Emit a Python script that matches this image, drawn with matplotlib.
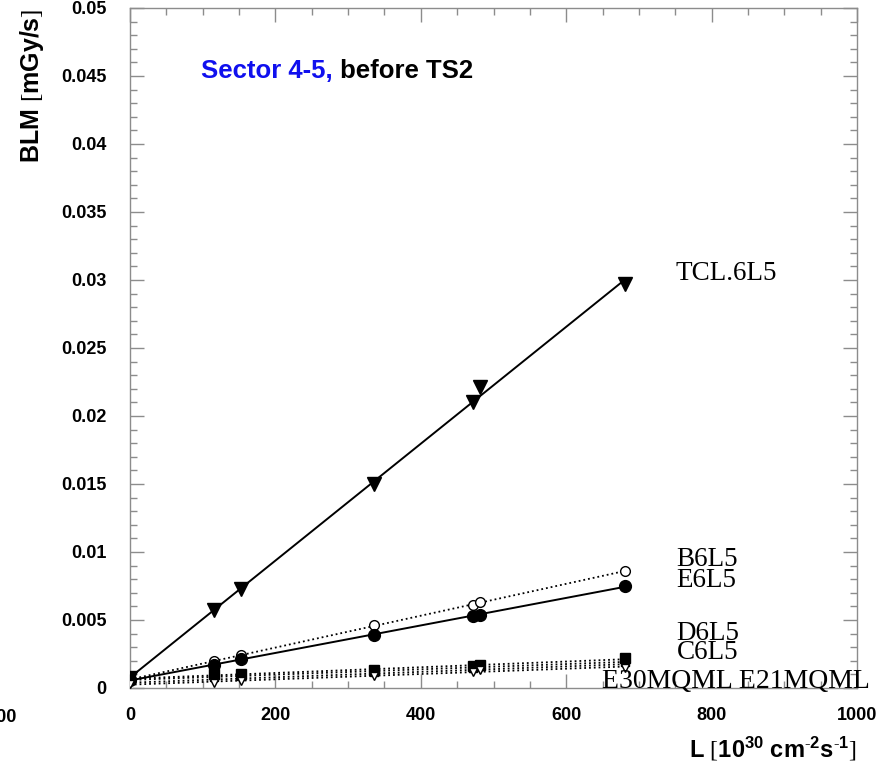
import numpy as np
import matplotlib
matplotlib.use("Agg")
import matplotlib.pyplot as plt
from matplotlib.ticker import MultipleLocator, FuncFormatter

# Luminosity values of the fills [10^30 cm^-2 s^-1]
lumi = [0, 115, 152, 335, 472, 481, 681]

# BLM dose rates [mGy/s] per monitor
tcl_6l5 = [0.0007, 0.0057, 0.0073, 0.0150, 0.0210, 0.0221, 0.0297]
b6l5 = [0.0006, 0.0020, 0.0024, 0.0046, 0.0061, 0.0063, 0.0086]
e6l5 = [0.0006, 0.0017, 0.0021, 0.0039, 0.0053, 0.0054, 0.0075]
d6l5 = [0.0007, 0.0010, 0.0010, 0.0013, 0.0016, 0.0017, 0.0022]
c6l5 = [0.0006, 0.0008, 0.0009, 0.0012, 0.0015, 0.0016, 0.0019]
e21mqml = [0.0004, 0.0006, 0.0007, 0.0010, 0.0014, 0.0014, 0.0017]
e30mqml = [0.0003, 0.0004, 0.0005, 0.0009, 0.0012, 0.0013, 0.0015]

names = ["TCL.6L5", "B6L5", "E6L5", "D6L5", "C6L5", "E21MQML", "E30MQML"]

# bold sans text, thin serif brackets via \mathrm
plt.rcParams["mathtext.fontset"] = "custom"
plt.rcParams["mathtext.bf"] = "Liberation Sans:bold"
plt.rcParams["mathtext.rm"] = "Liberation Serif"
plt.rcParams["mathtext.default"] = "bf"

fig = plt.figure(figsize=(8.85, 7.76), dpi=100)
ax = fig.add_axes([130 / 885, 1 - 688 / 776, 727 / 885, 680 / 776])

styles = [
    (tcl_6l5, dict(marker="v", ms=10, mfc="black", mec="black"), "-", 1.4),
    (b6l5, dict(marker="o", ms=7, mfc="white", mec="black", mew=1.0), ":", 1.3),
    (e6l5, dict(marker="o", ms=8.5, mfc="black", mec="black"), "-", 1.4),
    (d6l5, dict(marker="s", ms=7, mfc="black", mec="black"), ":", 1.3),
    (c6l5, dict(marker="s", ms=6, mfc="black", mec="black"), ":", 1.3),
    (e21mqml, dict(marker="v", ms=6, mfc="black", mec="black"), ":", 1.3),
    (e30mqml, dict(marker="v", ms=6, mfc="white", mec="black", mew=1.0), ":", 1.3),
]

x = np.array(lumi, dtype=float)
xfit = np.array([0.0, x.max()])
for vals, mk, ls, lw in styles:
    y = np.array(vals)
    slope, icpt = np.polyfit(x, y, 1)
    ax.plot(xfit, icpt + slope * xfit, color="black", ls=ls, lw=lw, zorder=2)
    ax.plot(x, y, ls="none", zorder=3, **mk)

ax.set_xlim(0, 1000)
ax.set_ylim(0, 0.05)
ax.xaxis.set_major_locator(MultipleLocator(200))
ax.xaxis.set_minor_locator(MultipleLocator(50))
ax.yaxis.set_major_locator(MultipleLocator(0.005))
ax.yaxis.set_minor_locator(MultipleLocator(0.001))
ax.yaxis.set_major_formatter(FuncFormatter(lambda v, p: "%g" % round(v, 4)))
ax.xaxis.set_major_formatter(FuncFormatter(lambda v, p: "%d" % round(v)))

grey = "#8c8c8c"
for s in ax.spines.values():
    s.set_color(grey)
    s.set_linewidth(1.0)
ax.tick_params(which="both", direction="in", top=True, right=True, color=grey, width=1.0)
ax.tick_params(which="major", length=10)
ax.tick_params(which="minor", length=5)
ax.tick_params(axis="y", which="major", pad=17)
ax.tick_params(axis="x", which="major", pad=14)
for lab in ax.get_xticklabels() + ax.get_yticklabels():
    lab.set_fontfamily("Liberation Sans")
    lab.set_fontweight("bold")
    lab.set_fontsize(13)

# Monitor names at the line ends
serif = dict(family="Liberation Serif", fontsize=19.5, va="baseline", ha="left", clip_on=False)
ax.text(750, 0.0300, "TCL.6L5", **serif)
ax.text(752, 0.0090, "B6L5", **serif)
ax.text(752, 0.0074, "E6L5", **serif)
ax.text(752, 0.0035, "D6L5", **serif)
ax.text(752, 0.0021, "C6L5", **serif)
ax.text(649, 0.0000, "E30MQML E21MQML", family="Liberation Serif", fontsize=20,
        va="baseline", ha="left", clip_on=False)

# Axis titles
fig.text(32 / 885, 1 - 86 / 776, r"BLM $\mathrm{[}$mGy/s$\mathrm{]}$", rotation=90,
         ha="center", va="center", family="Liberation Sans", fontweight="bold", fontsize=18)
fig.text(857 / 885, 1 - 757 / 776,
         r"L $\mathrm{[}$10$^{30}$ cm$^{\text{-}2}$s$^{\text{-}1}$$\mathrm{]}$",
         ha="right", va="baseline", family="Liberation Sans", fontweight="bold", fontsize=17)

# Heading
head_y = 1 - 78 / 776
t1 = fig.text(201 / 885, head_y, "Sector 4-5,", color="#1010ee", ha="left", va="baseline",
              family="Liberation Sans", fontweight="bold", fontsize=18.5)
fig.canvas.draw()
bb = t1.get_window_extent()
fig.text(bb.x1 / fig.bbox.width, head_y, " before TS2", color="black", ha="left",
         va="baseline", family="Liberation Sans", fontweight="bold", fontsize=18.5)

# Neighbouring panel's tick label at the left edge
fig.text(17 / 885, 1 - 718 / 776, "1000", ha="right", va="center",
         family="Liberation Sans", fontweight="bold", fontsize=13)

fig.savefig("out.png", dpi=100)
